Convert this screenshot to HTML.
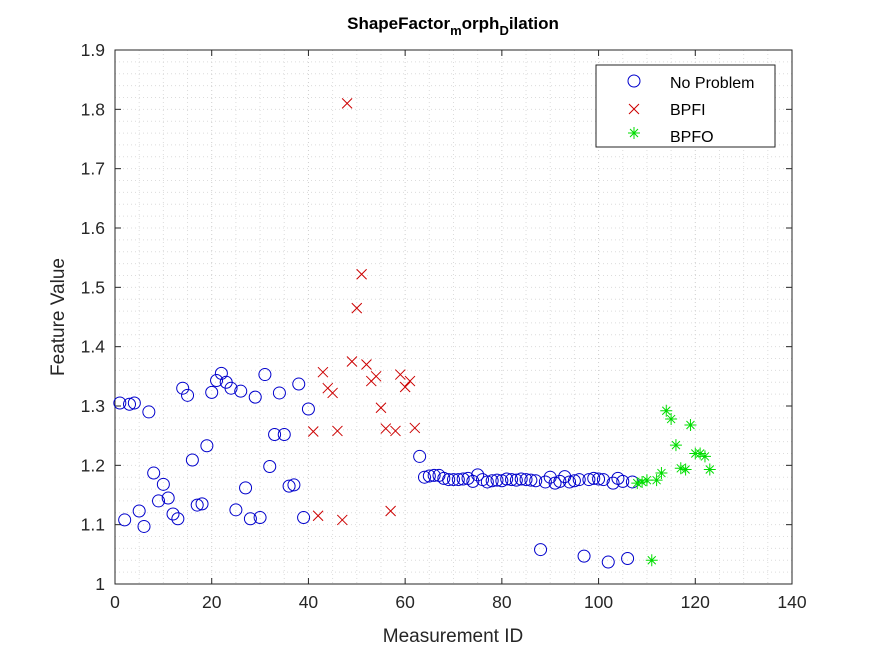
<!DOCTYPE html>
<html><head><meta charset="utf-8"><style>
body{margin:0;background:#fff;}
svg{display:block;font-family:"Liberation Sans",Arial,sans-serif;}
</style></head><body>
<svg id="chart" width="875" height="656">
<rect x="0" y="0" width="875" height="656" fill="#fff"/>
<g id="grid"></g>
<rect x="115" y="50" width="677" height="534" fill="none" stroke="#262626" stroke-width="1"/>
<g id="ticks"></g>
<g id="marks"></g>
<text x="453" y="29" text-anchor="middle" font-size="17" font-weight="bold" fill="#000">ShapeFactor<tspan font-size="13" dy="6">m</tspan><tspan dy="-6">orph</tspan><tspan font-size="13" dy="6">D</tspan><tspan dy="-6">ilation</tspan></text>
<text x="453" y="642" text-anchor="middle" font-size="19" fill="#262626">Measurement ID</text>
<text x="64" y="317" text-anchor="middle" font-size="19" fill="#262626" transform="rotate(-90 64 317)">Feature Value</text>
<g>
<rect x="596" y="65" width="179" height="82" fill="#fff" stroke="#262626" stroke-width="1"/>
<circle cx="634" cy="81" r="6" fill="none" stroke="#0000cc"/>
<text x="670" y="88" font-size="16" fill="#000">No Problem</text>
<path d="M629 104 l10 10 M639 104 l-10 10" stroke="#cc0000"/>
<text x="670" y="115" font-size="16" fill="#000">BPFI</text>
<path d="M628 133 h12 M634 127 v12 M630 129 l8 8 M638 129 l-8 8" stroke="#00dd00"/>
<text x="670" y="142" font-size="16" fill="#000">BPFO</text>
</g>
</svg>
<script>
const xTicks=[0,20,40,60,80,100,120,140];
const yTicks=[1,1.1,1.2,1.3,1.4,1.5,1.6,1.7,1.8,1.9];
const blueIds=[1,2,3,4,5,6,7,8,9,10,11,12,13,14,15,16,17,18,19,20,21,22,23,24,25,26,27,28,29,30,31,32,33,34,35,36,37,38,39,40,63,64,65,66,67,68,69,70,71,72,73,74,75,76,77,78,79,80,81,82,83,84,85,86,87,88,89,90,91,92,93,94,95,96,97,98,99,100,101,102,103,104,105,106,107];
const blueVals=[1.305,1.108,1.303,1.305,1.123,1.097,1.290,1.187,1.140,1.168,1.145,1.118,1.110,1.330,1.318,1.209,1.133,1.135,1.233,1.323,1.343,1.355,1.340,1.330,1.125,1.325,1.162,1.110,1.315,1.112,1.353,1.198,1.252,1.322,1.252,1.165,1.167,1.337,1.112,1.295,
1.215,1.180,1.182,1.183,1.183,1.178,1.176,1.176,1.176,1.177,1.178,1.173,1.184,1.176,1.172,1.174,1.175,1.174,1.177,1.176,1.175,1.177,1.176,1.175,1.174,1.058,1.172,1.180,1.170,1.173,1.181,1.172,1.174,1.176,1.047,1.176,1.178,1.177,1.176,1.037,1.170,1.178,1.173,1.043,1.172];
const redIds=[41,42,43,44,45,46,47,48,49,50,51,52,53,54,55,56,57,58,59,60,61,62];
const redVals=[1.257,1.115,1.357,1.330,1.322,1.258,1.108,1.810,1.375,1.465,1.522,1.370,1.342,1.350,1.297,1.262,1.123,1.258,1.353,1.332,1.342,1.263];
const greenIds=[108,109,110,111,112,113,114,115,116,117,118,119,120,121,122,123];
const greenVals=[1.170,1.172,1.175,1.040,1.175,1.187,1.292,1.278,1.234,1.195,1.193,1.268,1.220,1.220,1.215,1.193];

const NS='http://www.w3.org/2000/svg';
const X0=115,X1=792,Y0=584,Y1=50;
function xs(v){return X0+(v-0)/(140-0)*(X1-X0);}
function ys(v){return Y0-(v-1)/(1.9-1)*(Y0-Y1);}
function mk(tag,attrs,parent){const e=document.createElementNS(NS,tag);for(const k in attrs)e.setAttribute(k,attrs[k]);parent.appendChild(e);return e;}
const grid=document.getElementById('grid'),ticks=document.getElementById('ticks'),marks=document.getElementById('marks');
for(let v=0;v<=140;v+=5){const major=v%20===0;const p=mk('line',{x1:xs(v),x2:xs(v),y1:Y1,y2:Y0,stroke:major?'#cfcfcf':'#dcdcdc','stroke-dasharray':'1,3','stroke-width':1},grid);

}
for(let i=0;i<=45;i++){const v=1+i*0.02;const p=mk('line',{x1:X0,x2:X1,y1:ys(v),y2:ys(v),stroke:'#dcdcdc','stroke-dasharray':'1,3','stroke-width':1},grid);

}
xTicks.forEach(t=>{const x=xs(t);
mk('line',{x1:x,x2:x,y1:Y0,y2:Y0-6,stroke:'#262626'},ticks);
mk('line',{x1:x,x2:x,y1:Y1,y2:Y1+6,stroke:'#262626'},ticks);
const tx=mk('text',{x:x,y:Y0+24,'text-anchor':'middle','font-size':17.5,fill:'#262626'},ticks);tx.textContent=t;

});
yTicks.forEach(t=>{const y=ys(t);
mk('line',{x1:X0,x2:X0+6,y1:y,y2:y,stroke:'#262626'},ticks);
mk('line',{x1:X1,x2:X1-6,y1:y,y2:y,stroke:'#262626'},ticks);
const tx=mk('text',{x:X0-10,y:y+6,'text-anchor':'end','font-size':17.5,fill:'#262626'},ticks);tx.textContent=(t===1?'1':t.toFixed(1));

});
blueIds.forEach((id,i)=>{const c=mk('circle',{cx:xs(id),cy:ys(blueVals[i]),r:6,fill:'none',stroke:'#0000cc','stroke-width':1},marks);

});
redIds.forEach((id,i)=>{const x=xs(id),y=ys(redVals[i]);const p=mk('path',{d:`M${x-5} ${y-5}L${x+5} ${y+5}M${x+5} ${y-5}L${x-5} ${y+5}`,stroke:'#cc0000','stroke-width':1,fill:'none'},marks);

});
greenIds.forEach((id,i)=>{const x=xs(id),y=ys(greenVals[i]);const p=mk('path',{d:`M${x-6} ${y}H${x+6}M${x} ${y-6}V${y+6}M${x-4} ${y-4}L${x+4} ${y+4}M${x+4} ${y-4}L${x-4} ${y+4}`,stroke:'#00dd00','stroke-width':1,fill:'none'},marks);

});
</script>
</body></html>
